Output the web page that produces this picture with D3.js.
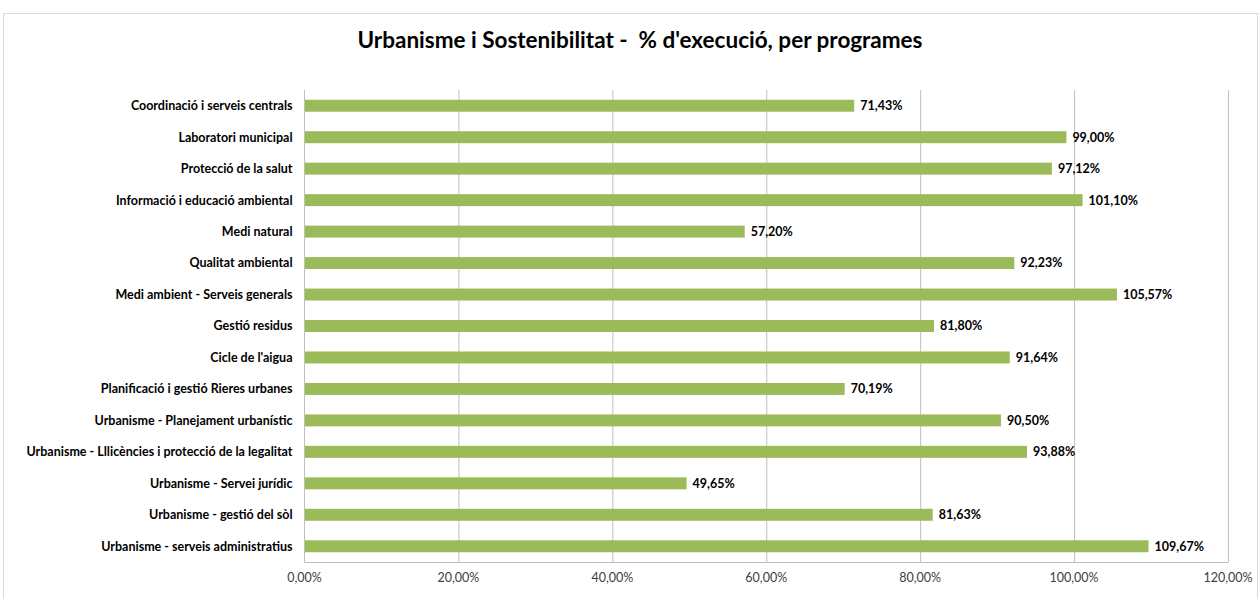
<!DOCTYPE html>
<html>
<head>
<meta charset="utf-8">
<script src="https://cdn.jsdelivr.net/npm/d3@7"></script>
<style>
  body { margin: 0; background: #fff; }
  text { font-family: Lato, "Open Sans", sans-serif; }
</style>
</head>
<body>
<div id="vis"></div>
<script>
// data
const programes = [
  "Coordinació i serveis centrals",
  "Laboratori municipal",
  "Protecció de la salut",
  "Informació i educació ambiental",
  "Medi natural",
  "Qualitat ambiental",
  "Medi ambient - Serveis generals",
  "Gestió residus",
  "Cicle de l'aigua",
  "Planificació i gestió Rieres urbanes",
  "Urbanisme - Planejament urbanístic",
  "Urbanisme - Lllicències i protecció de la legalitat",
  "Urbanisme - Servei jurídic",
  "Urbanisme - gestió del sòl",
  "Urbanisme - serveis administratius"
]
const execucio = [71.43, 99.00, 97.12, 101.10, 57.20, 92.23, 105.57, 81.80, 91.64, 70.19, 90.50, 93.88, 49.65, 81.63, 109.67]
const xTicks = [0, 20, 40, 60, 80, 100, 120]

const data = programes.map((p, i) => ({name: p, value: execucio[i]}))

const FRAME_WIDTH = 1258
const FRAME_HEIGHT = 599
const MARGINS = {left: 304.5, right: 30, top: 90, bottom: 37}

const fmt = v => v.toFixed(2).replace(".", ",") + "%"

const svg = d3.select("#vis")
  .append("svg")
  .attr("width", FRAME_WIDTH)
  .attr("height", FRAME_HEIGHT)

// chart border
svg.append("rect")
  .attr("x", 3.5).attr("y", 13.5)
  .attr("width", FRAME_WIDTH - 4).attr("height", FRAME_HEIGHT)
  .attr("fill", "none")
  .attr("stroke", "#d9d9d9")

const x = d3.scaleLinear()
  .domain([0, 120])
  .range([MARGINS.left, FRAME_WIDTH - MARGINS.right])

const y = d3.scaleBand()
  .domain(programes)
  .range([MARGINS.top, FRAME_HEIGHT - MARGINS.bottom])
  .paddingInner(0.62)
  .paddingOuter(0.31)

// gridlines
svg.append("g")
  .selectAll("line")
  .data(xTicks.slice(1))
  .enter()
  .append("line")
  .attr("x1", d => x(d) + 0.5).attr("x2", d => x(d) + 0.5)
  .attr("y1", MARGINS.top).attr("y2", FRAME_HEIGHT - MARGINS.bottom)
  .attr("stroke", "#bfbfbf")

// bars
svg.append("g")
  .selectAll("rect")
  .data(data)
  .enter()
  .append("rect")
  .attr("x", x(0))
  .attr("y", d => y(d.name))
  .attr("width", d => x(d.value) - x(0))
  .attr("height", y.bandwidth())
  .attr("fill", "#9bbb59")

// axes lines
svg.append("line")
  .attr("x1", x(0)).attr("x2", x(0))
  .attr("y1", MARGINS.top).attr("y2", FRAME_HEIGHT - MARGINS.bottom + 0.5)
  .attr("stroke", "#bfbfbf")
svg.append("line")
  .attr("x1", x(0)).attr("x2", x(120) + 0.5)
  .attr("y1", FRAME_HEIGHT - MARGINS.bottom + 0.5).attr("y2", FRAME_HEIGHT - MARGINS.bottom + 0.5)
  .attr("stroke", "#bfbfbf")

// x tick labels
svg.append("g")
  .selectAll("text")
  .data(xTicks)
  .enter()
  .append("text")
  .attr("x", d => x(d))
  .attr("y", FRAME_HEIGHT - MARGINS.bottom + 20)
  .attr("text-anchor", "middle")
  .attr("font-size", "12.5px")
  .attr("fill", "#404040")
  .text(d => fmt(d))

// category labels
svg.append("g")
  .selectAll("text")
  .data(data)
  .enter()
  .append("text")
  .attr("x", x(0) - 12)
  .attr("y", d => y(d.name) + y.bandwidth() / 2)
  .attr("dy", "0.35em")
  .attr("text-anchor", "end")
  .attr("font-size", "12.5px")
  .attr("font-weight", "bold")
  .attr("fill", "#000")
  .text(d => d.name)

// value labels
svg.append("g")
  .selectAll("text")
  .data(data)
  .enter()
  .append("text")
  .attr("x", d => x(d.value) + 6)
  .attr("y", d => y(d.name) + y.bandwidth() / 2)
  .attr("dy", "0.35em")
  .attr("font-size", "12.5px")
  .attr("font-weight", "bold")
  .attr("fill", "#000")
  .text(d => fmt(d.value))

// title
svg.append("text")
  .attr("x", 640)
  .attr("y", 48)
  .attr("text-anchor", "middle")
  .attr("font-size", "22.5px")
  .attr("font-weight", "bold")
  .attr("xml:space", "preserve")
  .text("Urbanisme i Sostenibilitat -  % d'execució, per programes")
</script>
</body>
</html>
